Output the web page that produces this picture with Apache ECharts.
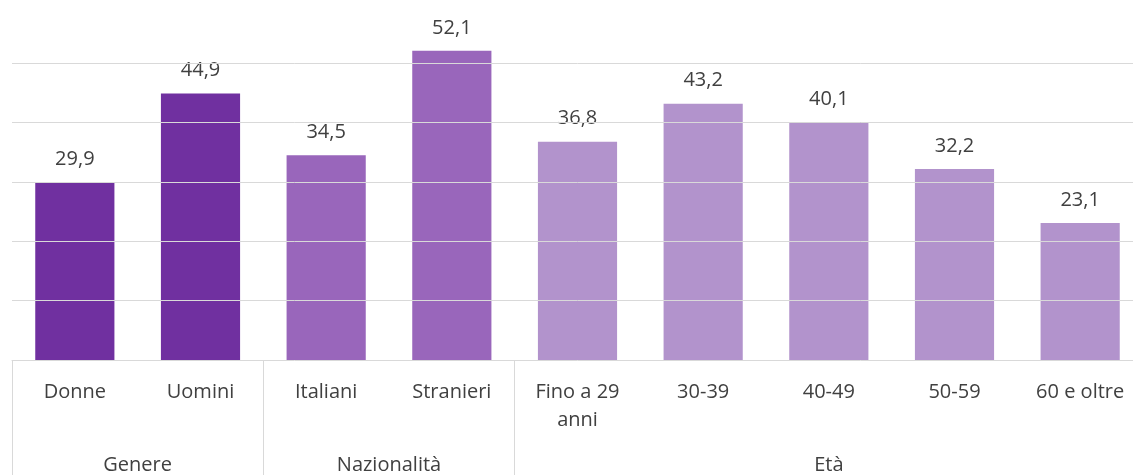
<!DOCTYPE html>
<html>
<head>
<meta charset="utf-8">
<style>
  html, body { margin: 0; padding: 0; background: #ffffff; overflow: hidden; }
  /* the plot runs a little past the right edge of the window */
  #chart { width: 1146px; height: 475px; }
</style>
<script src="https://cdn.jsdelivr.net/npm/echarts@6/dist/echarts.min.js"></script>
</head>
<body>
<div id="chart"></div>
<script>
// Categories and values
const categories = ['Donne', 'Uomini', 'Italiani', 'Stranieri', 'Fino a 29\nanni', '30-39', '40-49', '50-59', '60 e oltre'];
const values = [29.9, 44.9, 34.5, 52.1, 36.8, 43.2, 40.1, 32.2, 23.1];
// Category groups shown on the second label row
const groups = ['Genere', 'Nazionalità', 'Età'];
const groupSizes = [2, 2, 5];
const groupColors = ['#7030A0', '#9966BB', '#B293CC'];
// Horizontal reference lines
const gridValues = [10, 20, 30, 40, 50];

// Derived helpers: group index per bar, group centers and boundaries on the category scale
const barGroup = [];
const groupCenters = [];
const boundaries = [0];
let start = 0;
groupSizes.forEach(function (n, g) {
  for (let i = 0; i < n; i++) barGroup.push(g);
  groupCenters.push(start + n / 2);
  start += n;
  boundaries.push(start);
});

const textColor = '#404040';
const lineColor = '#d9d9d9';
const fontFamily = '"Open Sans", sans-serif';

const chart = echarts.init(document.getElementById('chart'), null, { renderer: 'canvas' });

chart.setOption({
  animation: false,
  backgroundColor: '#ffffff',
  textStyle: { fontFamily: fontFamily },
  grid: { left: 12, right: 0, top: 4, height: 357, containLabel: false },
  xAxis: [
    {
      type: 'category',
      data: categories,
      boundaryGap: true,
      axisLine: { show: true, lineStyle: { color: lineColor, width: 1 } },
      axisTick: {
        show: true,
        length: 120,
        interval: function (index) { return boundaries.indexOf(index) !== -1; },
        lineStyle: { color: lineColor, width: 1 }
      },
      axisLabel: {
        interval: 0,
        margin: 18,
        color: textColor,
        fontSize: 20,
        lineHeight: 28,
        fontFamily: fontFamily
      }
    },
    {
      type: 'value',
      position: 'bottom',
      min: 0,
      max: categories.length,
      interval: 0.5,
      axisLine: { show: false },
      axisTick: { show: false },
      splitLine: { show: false },
      axisLabel: {
        margin: 95,
        color: textColor,
        fontSize: 20,
        fontFamily: fontFamily,
        showMinLabel: true,
        showMaxLabel: true,
        formatter: function (v) {
          const g = groupCenters.indexOf(v);
          return g === -1 ? '' : groups[g];
        }
      }
    }
  ],
  yAxis: {
    type: 'value',
    min: 0,
    max: 60,
    interval: 10,
    axisLine: { show: false },
    axisTick: { show: false },
    axisLabel: { show: false },
    splitLine: { show: false }
  },
  series: [
    {
      type: 'line',
      data: [],
      silent: true,
      z: 1,
      markLine: {
        silent: true,
        symbol: 'none',
        label: { show: false },
        lineStyle: { color: lineColor, type: 'solid', width: 1 },
        data: gridValues.map(function (v) { return { yAxis: v }; })
      }
    },
    {
      type: 'bar',
      z: 2,
      barCategoryGap: '37%',
      data: values.map(function (v, i) {
        return { value: v, itemStyle: { color: groupColors[barGroup[i]] } };
      }),
      label: {
        show: true,
        position: 'top',
        distance: 13,
        color: textColor,
        fontSize: 20,
        fontFamily: fontFamily,
        formatter: function (p) { return String(p.value).replace('.', ','); }
      }
    }
  ]
});
</script>
</body>
</html>
